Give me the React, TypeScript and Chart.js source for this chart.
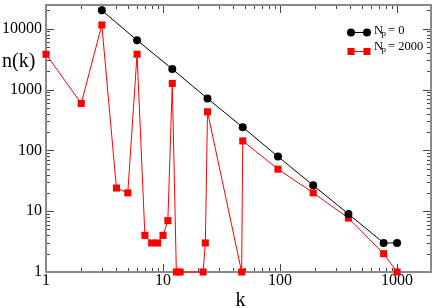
import React, { useEffect, useRef } from "react";
import { Chart, registerables } from "chart.js";

Chart.register(...registerables);

// ---- data ----
const blackK = [3, 6, 12, 24, 48, 96, 192, 384, 768, 1000];
const blackN = [20000, 6460, 2170, 710, 240, 79, 26.6, 9, 3, 3];

const redK = [1, 2, 3, 4, 5, 6, 7, 8, 9, 10, 11, 12, 13, 14, 22, 23, 24, 47, 48, 96, 192, 384, 768, 1000];
const redN = [3800, 590, 11500, 24, 20, 3800, 4, 3, 3, 4, 7, 1260, 1, 1, 1, 3, 430, 1, 143, 49, 20, 7.7, 2, 1];

const xTickLabels = [1, 10, 100, 1000];
const yTickLabels = [1, 10, 100, 1000, 10000];
const seriesNames = ["0", "2000"];
const xTitle = "k";
const yTitle = "n(k)";

const SERIF = '"Liberation Serif", "DejaVu Serif", "Times New Roman", serif';

const frameTicksPlugin = {
  id: "frameTicks",
  beforeDatasetsDraw(chart: any) {
    const { ctx, chartArea: a, scales } = chart;
    const xs = scales.x;
    const ys = scales.y;
    ctx.save();
    ctx.strokeStyle = "#444";
    ctx.lineWidth = 1;
    for (let d = 0; d <= 4; d++) {
      for (let m = 1; m <= 9; m++) {
        const v = m * Math.pow(10, d);
        const len = m === 1 ? 8 : 4;
        if (v >= xs.min && v <= xs.max) {
          const px = Math.round(xs.getPixelForValue(v)) + 0.5;
          ctx.beginPath();
          ctx.moveTo(px, a.bottom);
          ctx.lineTo(px, a.bottom - len);
          ctx.moveTo(px, a.top);
          ctx.lineTo(px, a.top + len);
          ctx.stroke();
        }
        if (v >= ys.min && v <= ys.max) {
          const py = Math.round(ys.getPixelForValue(v)) + 0.5;
          ctx.beginPath();
          ctx.moveTo(a.left, py);
          ctx.lineTo(a.left + len, py);
          ctx.moveTo(a.right, py);
          ctx.lineTo(a.right - len, py);
          ctx.stroke();
        }
      }
    }
    ctx.strokeStyle = "#8a8a8a";
    ctx.lineWidth = 2;
    ctx.strokeRect(a.left, a.top, a.right - a.left, a.bottom - a.top);
    ctx.restore();
  },
};

const titlesLegendPlugin = {
  id: "titlesLegend",
  afterDraw(chart: any) {
    const { ctx, chartArea: a } = chart;
    ctx.save();
    ctx.fillStyle = "#000";
    ctx.textBaseline = "alphabetic";
    ctx.font = `20px ${SERIF}`;
    ctx.textAlign = "left";
    ctx.fillText(yTitle, 2, 67);
    ctx.textAlign = "center";
    ctx.fillText(xTitle, (a.left + a.right) / 2 + 2, 306);

    // legend
    const rows = [
      { y: 32, base: 34, color: "#000", style: "circle", name: seriesNames[0] },
      { y: 51, base: 50, color: "#ff0000", style: "rect", name: seriesNames[1] },
    ];
    const x0 = 351;
    const x1 = 367;
    for (const r of rows) {
      ctx.strokeStyle = r.color;
      ctx.fillStyle = r.color;
      ctx.lineWidth = 1;
      ctx.beginPath();
      ctx.moveTo(x0, r.y + 0.5);
      ctx.lineTo(x1, r.y + 0.5);
      ctx.stroke();
      for (const px of [x0, x1]) {
        if (r.style === "circle") {
          ctx.beginPath();
          ctx.arc(px, r.y + 0.5, 4, 0, Math.PI * 2);
          ctx.fill();
        } else {
          ctx.fillRect(px - 3.5, r.y - 3, 7, 7);
        }
      }
      ctx.fillStyle = "#000";
      ctx.textAlign = "left";
      ctx.font = `12.5px ${SERIF}`;
      ctx.fillText("N", 374, r.base);
      ctx.font = `9px ${SERIF}`;
      ctx.fillText("p", 381.5, r.base + 2);
      ctx.font = `12.5px ${SERIF}`;
      ctx.fillText("= " + r.name, 388, r.base);
    }
    ctx.restore();
  },
};

export default function App() {
  const ref = useRef<HTMLCanvasElement | null>(null);
  useEffect(() => {
    if (!ref.current) return;
    const chart = new Chart(ref.current, {
      type: "line",
      data: {
        datasets: [
          {
            label: "Np = " + seriesNames[0],
            data: blackK.map((k, i) => ({ x: k, y: blackN[i] })),
            borderColor: "#000",
            backgroundColor: "#000",
            borderWidth: 1,
            pointStyle: "circle",
            pointRadius: 4,
            pointBorderWidth: 0,
            pointBackgroundColor: "#000",
            tension: 0,
            clip: false,
          },
          {
            label: "Np = " + seriesNames[1],
            data: redK.map((k, i) => ({ x: k, y: redN[i] })),
            borderColor: "#ff0000",
            backgroundColor: "#ff0000",
            borderWidth: 1,
            pointStyle: "rect",
            pointRadius: 5,
            pointBorderWidth: 0,
            pointBackgroundColor: "#ff0000",
            tension: 0,
            clip: false,
          },
        ],
      },
      options: {
        responsive: false,
        animation: false,
        layout: { padding: { left: 0, right: 2, top: 1, bottom: 0 } },
        plugins: { legend: { display: false }, tooltip: { enabled: false } },
        scales: {
          x: {
            type: "logarithmic",
            min: 1,
            max: 1950,
            grid: { display: false, drawTicks: false },
            border: { display: false },
            ticks: {
              autoSkip: false,
              maxRotation: 0,
              padding: -1,
              color: "#000",
              font: { family: SERIF, size: 16 },
              callback: (v: any) => (xTickLabels.includes(Number(v)) ? String(v) : ""),
            },
            afterFit: (s: any) => {
              s.height = 36;
              s.paddingLeft = 0;
              s.paddingRight = 0;
              s.paddingTop = 0;
              s.paddingBottom = 0;
            },
          },
          y: {
            type: "logarithmic",
            min: 1,
            max: 24500,
            grid: { display: false, drawTicks: false },
            border: { display: false },
            ticks: {
              autoSkip: false,
              padding: 4,
              color: "#000",
              font: { family: SERIF, size: 16 },
              callback: (v: any) => (yTickLabels.includes(Number(v)) ? String(v) : ""),
            },
            afterFit: (s: any) => {
              s.width = 46;
              s.paddingLeft = 0;
              s.paddingRight = 0;
              s.paddingTop = 0;
              s.paddingBottom = 0;
            },
          },
        },
      },
      plugins: [frameTicksPlugin, titlesLegendPlugin],
    } as any);
    return () => chart.destroy();
  }, []);
  return (
    <div style={{ position: "absolute", left: 0, top: 0, width: 436, height: 308, background: "#fff" }}>
      <canvas ref={ref} width={436} height={308} style={{ display: "block" }} />
    </div>
  );
}
